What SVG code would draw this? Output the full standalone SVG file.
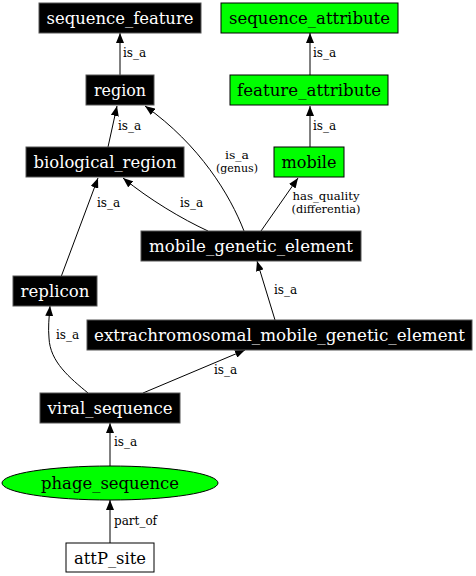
<svg xmlns="http://www.w3.org/2000/svg" width="476" height="576" viewBox="0 0 476 576">
<style>
.n rect, .n ellipse { stroke: #555; stroke-width: 1; }
.blk rect { fill: #000; }
.grn rect, .grn ellipse { fill: #00ff00; stroke: #000; }
.wht rect { fill: #fff; stroke: #000; }
.n text { font-family: "DejaVu Serif", "Liberation Serif", serif; font-size: 16px; text-anchor: middle; }
.blk text { fill: #fff; }
.grn text, .wht text { fill: #000; }
.e path { fill: none; stroke: #000; stroke-width: 1; marker-end: url(#ah); }
.lbl { font-family: "DejaVu Serif", "Liberation Serif", serif; font-size: 12px; fill: #000; }
.lbl2 { font-family: "DejaVu Serif", "Liberation Serif", serif; font-size: 11px; fill: #000; text-anchor: middle; }
</style>
<defs>
<marker id="ah" markerUnits="userSpaceOnUse" markerWidth="10" markerHeight="8" viewBox="0 0 10 8" refX="10" refY="4" orient="auto">
<path d="M0,0 L10,4 L0,8 Z" fill="#000"/>
</marker>
</defs>
<rect width="476" height="576" fill="#fff"/>
<g id="edges" class="e">
<path d="M120,75 L120,33"/>
<path d="M310,75 L310,33"/>
<path d="M108,147 L117,106"/>
<path d="M310,147 L310,106"/>
<path d="M244,231 C230,195 200,145 145,106"/>
<path d="M208,231 C182,219 150,200 123,178"/>
<path d="M261,231 L298,178"/>
<path d="M61,277 L98,178"/>
<path d="M275,320 L257,261"/>
<path d="M88,393 C70,378 50,362 49,338 C48,328 49,318 50,306"/>
<path d="M143,393 L245,350"/>
<path d="M110,466 L110,423"/>
<path d="M110,543 L110,500"/>
</g>
<g id="edge-labels">
<text class="lbl" x="123" y="57">is_a</text>
<text class="lbl" x="313" y="57">is_a</text>
<text class="lbl" x="118" y="130">is_a</text>
<text class="lbl" x="313" y="130">is_a</text>
<text class="lbl2" x="237" y="159" textLength="24" lengthAdjust="spacingAndGlyphs">is_a</text>
<text class="lbl2" x="237" y="172" textLength="42" lengthAdjust="spacingAndGlyphs">(genus)</text>
<text class="lbl" x="180" y="207">is_a</text>
<text class="lbl" x="97" y="207">is_a</text>
<text class="lbl2" x="326" y="200" textLength="67" lengthAdjust="spacingAndGlyphs">has_quality</text>
<text class="lbl2" x="326" y="213" textLength="69" lengthAdjust="spacingAndGlyphs">(differentia)</text>
<text class="lbl" x="274" y="294">is_a</text>
<text class="lbl" x="56" y="339">is_a</text>
<text class="lbl" x="214" y="374">is_a</text>
<text class="lbl" x="114" y="446">is_a</text>
<text class="lbl" x="114" y="525">part_of</text>
</g>
<g id="sequence_feature" class="n blk"><rect x="39" y="3" width="162" height="30"/><text x="120" y="23.5" textLength="147" lengthAdjust="spacingAndGlyphs">sequence_feature</text></g>
<g id="sequence_attribute" class="n grn"><rect x="221" y="3" width="177" height="30"/><text x="309.5" y="23.5" textLength="161" lengthAdjust="spacingAndGlyphs">sequence_attribute</text></g>
<g id="region" class="n blk"><rect x="86" y="75" width="68" height="30"/><text x="120" y="95.5" textLength="52" lengthAdjust="spacingAndGlyphs">region</text></g>
<g id="feature_attribute" class="n grn"><rect x="230" y="75" width="158" height="30"/><text x="309" y="95.5" textLength="144" lengthAdjust="spacingAndGlyphs">feature_attribute</text></g>
<g id="biological_region" class="n blk"><rect x="26" y="147" width="158" height="30"/><text x="105" y="167.5" textLength="143" lengthAdjust="spacingAndGlyphs">biological_region</text></g>
<g id="mobile" class="n grn"><rect x="274" y="147" width="70" height="30"/><text x="309" y="167.5" textLength="55" lengthAdjust="spacingAndGlyphs">mobile</text></g>
<g id="mobile_genetic_element" class="n blk"><rect x="141" y="231" width="220" height="30"/><text x="251" y="251.5" textLength="204" lengthAdjust="spacingAndGlyphs">mobile_genetic_element</text></g>
<g id="replicon" class="n blk"><rect x="13" y="276" width="84" height="30"/><text x="55" y="296.5" textLength="69" lengthAdjust="spacingAndGlyphs">replicon</text></g>
<g id="extrachromosomal_mobile_genetic_element" class="n blk"><rect x="87" y="320" width="385" height="30"/><text x="279.5" y="340.5" textLength="371" lengthAdjust="spacingAndGlyphs">extrachromosomal_mobile_genetic_element</text></g>
<g id="viral_sequence" class="n blk"><rect x="40" y="393" width="140" height="30"/><text x="110" y="413.5" textLength="125" lengthAdjust="spacingAndGlyphs">viral_sequence</text></g>
<g id="phage_sequence" class="n grn"><ellipse cx="110" cy="483" rx="108" ry="17"/><text x="110" y="488.5" textLength="138" lengthAdjust="spacingAndGlyphs">phage_sequence</text></g>
<g id="attP_site" class="n wht"><rect x="66" y="543" width="88" height="29"/><text x="110" y="563.5" textLength="72" lengthAdjust="spacingAndGlyphs">attP_site</text></g>
</svg>
